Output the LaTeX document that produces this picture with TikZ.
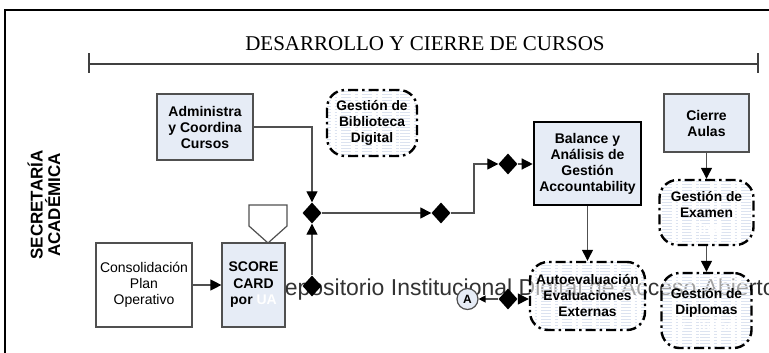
\documentclass[tikz,border=0pt]{standalone}
\usepackage{fontspec}
\setmainfont{Liberation Serif}
\setsansfont{Liberation Sans}
\usetikzlibrary{arrows.meta,shapes.geometric,patterns}
\definecolor{boxblue}{HTML}{E6ECF6}
\definecolor{lgray}{HTML}{505050}
\definecolor{stripe}{HTML}{DCE3F0}
\tikzset{
  sbox/.style={draw=lgray, line width=1.2pt, fill=boxblue, align=center, inner sep=0pt,
    font=\sffamily\bfseries\fontsize{14}{16}\selectfont},
  wbox/.style={sbox, fill=white, font=\sffamily\fontsize{14}{16}\selectfont},
  bbox/.style={sbox, draw=black, line width=2.6pt},
  dbox/.style={draw=black, line width=2.4pt, dash pattern=on 10pt off 4pt on 2.5pt off 4pt,
    rounded corners=18pt, preaction={fill=white, fill opacity=0.55},
    pattern=horizontal lines, pattern color=stripe, align=center, inner sep=0pt,
    font=\sffamily\bfseries\fontsize{13.8}{16}\selectfont},
  dia/.style={diamond, fill=black, draw=none, minimum width=19pt, minimum height=21pt, inner sep=0pt},
  conn/.style={draw=lgray, line width=1.3pt, -{Triangle[length=11pt,width=11pt,color=black,fill=black]}},
  sconn/.style={draw=lgray, line width=1.3pt, -{Triangle[length=7pt,width=7pt,color=black,fill=black]}},
}
\begin{document}
\begin{tikzpicture}[x=1pt,y=-1pt]
\useasboundingbox (0,0) rectangle (769,353);
\fill[white] (0,0) rectangle (769,353);
% watermark (beneath everything)
\node[anchor=base west, inner sep=0pt, text=black!80, font=\sffamily\fontsize{23}{23}\selectfont] (wm) at (268,295) {Repositorio Institucional Digital de Acceso Abierto};
% frame
\draw[line width=2pt] (5,360) -- (5,10) -- (780,10);
% title and rule
\node[anchor=base, inner sep=0pt, font=\rmfamily\fontsize{21}{21}\selectfont] (title) at (425,51) {DESARROLLO Y CIERRE DE CURSOS};
\coordinate (rl) at (89,64);
\coordinate (rr) at (758,64);
\draw[line width=1.2pt, black!75] (rl) -- (rr);
\draw[line width=1.2pt, black!75] ([yshift=-9pt]rl) -- ([yshift=11pt]rl);
\draw[line width=1.2pt, black!75] ([yshift=-9pt]rr) -- ([yshift=11pt]rr);
% lane label
\node[rotate=90, align=center, inner sep=0pt, font=\sffamily\bfseries\fontsize{17}{17.5}\selectfont] (lane) at (44,205) {SECRETARÍA\\ACADÉMICA};
% boxes
\node[sbox, minimum width=96pt, minimum height=66pt] (adm) at (205,127) {Administra\\y Coordina\\Cursos};
\node[dbox, minimum width=90pt, minimum height=66pt] (bib) at (372,123) {Gestión de\\Biblioteca\\Digital};
\node[wbox, minimum width=96pt, minimum height=84pt] (cons) at (144,285) {Consolidación\\Plan\\Operativo};
\draw[draw=lgray, line width=1.2pt, fill=white] (249,205) -- (287,205) -- (287,226) -- (268,243) -- (249,226) -- cycle;
\node[sbox, minimum width=63pt, minimum height=84pt, font=\sffamily\bfseries\fontsize{14}{16.5}\selectfont] (score) at (253.5,285) {SCORE\\CARD\\por \textcolor{white}{UA}};
\node[bbox, minimum width=107pt, minimum height=83pt] (bal) at (587.5,163.5) {Balance y\\Análisis de\\Gestión\\Accountability};
\node[dbox, minimum width=115pt, minimum height=68pt] (auto) at (587.5,296) {Autoevaluación\\Evaluaciones\\Externas};
\node[sbox, minimum width=85pt, minimum height=58pt] (cierre) at (706.5,123) {Cierre\\Aulas};
\node[dbox, minimum width=94pt, minimum height=65pt] (exam) at (706.5,212.5) {Gestión de\\Examen\\\textcolor{white}{Final}};
\node[dbox, minimum width=90pt, minimum height=75pt] (dipl) at (706.5,310.5) {Gestión de\\Diplomas\\\textcolor{white}{y Títulos}};
\node[circle, draw=lgray, line width=1.2pt, fill=boxblue, minimum size=21pt, inner sep=0pt, font=\sffamily\bfseries\fontsize{12}{12}\selectfont] (cA) at (467.5,299) {A};
% diamonds
\node[dia] (d1) at (312,213) {};
\node[dia] (d0) at (312,286) {};
\node[dia] (d2) at (441,213) {};
\node[dia] (d3) at (508,164) {};
\node[dia] (d4) at (508,299) {};
\coordinate (k) at (474,213);
% connectors
\draw[conn] (adm.east) -| (d1.north);
\draw[conn] (d0.north) -- (d1.south);
\draw[conn] (cons.east) -- (score.west);
\draw[conn] (d1.east) -- (d2.west);
\draw[conn] (d2.east) -- (k) |- (d3.west);
\draw[conn] (d3.east) -- (d3.east -| bal.west);
\draw[conn] (bal.south) -- (auto.north);
\draw[conn] (d4.east) -- (d4.east -| auto.west);
\draw[sconn] (d4.west) -- (cA.east);
\draw[conn] (cierre.south) -- (exam.north);
\draw[conn] (exam.south) -- (dipl.north);
\end{tikzpicture}
\end{document}
